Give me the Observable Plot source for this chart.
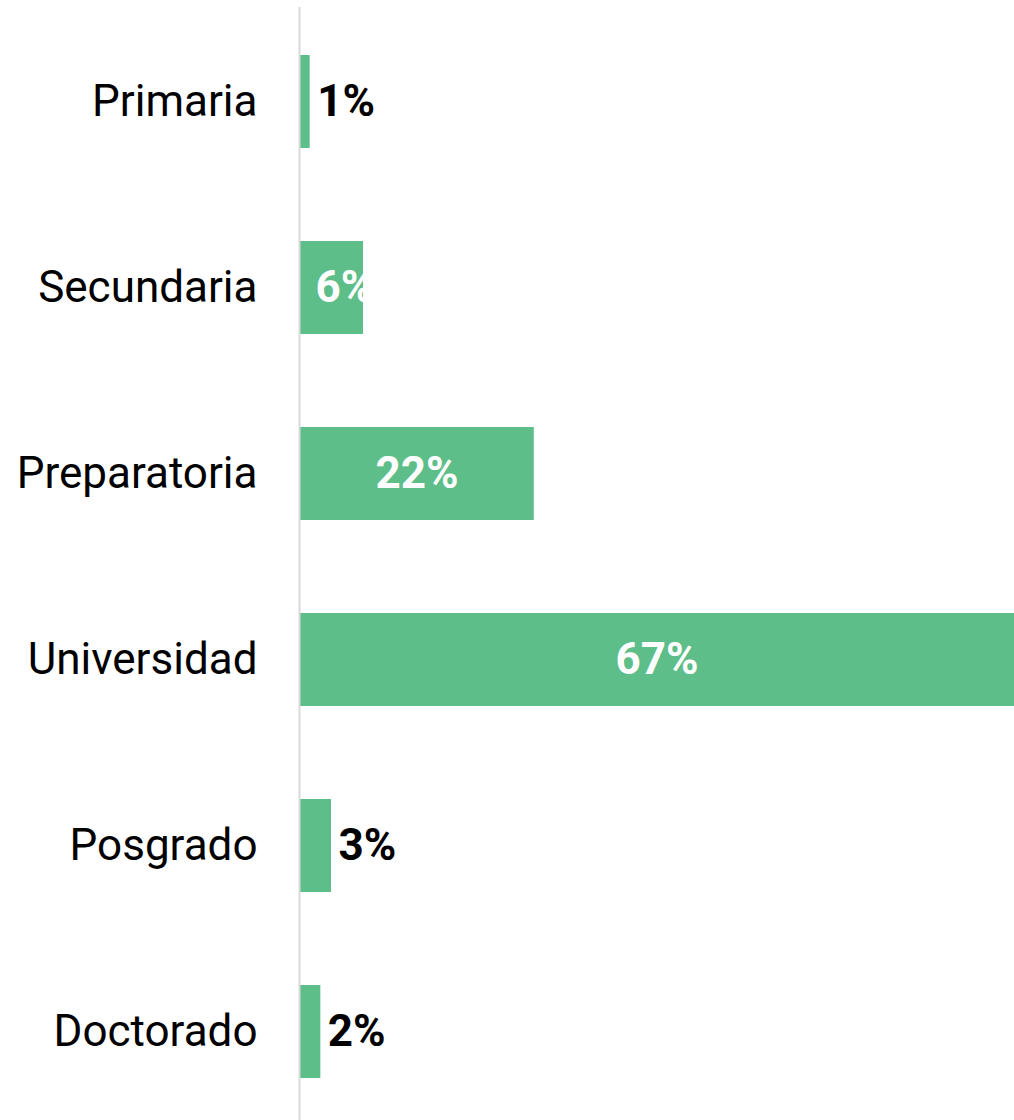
<!DOCTYPE html>
<html>
<head>
<meta charset="utf-8">
<script src="https://cdn.jsdelivr.net/npm/d3@7"></script>
<script src="https://cdn.jsdelivr.net/npm/@observablehq/plot@0.6"></script>
<style>
  html, body { margin: 0; padding: 0; background: #ffffff; }
  svg { display: block; }
</style>
</head>
<body>
<div id="chart"></div>
<script>
const categories = ["Primaria", "Secundaria", "Preparatoria", "Universidad", "Posgrado", "Doctorado"];
const values = [1, 6, 22, 67, 3, 2];
const labels = ["1%", "6%", "22%", "67%", "3%", "2%"];
const labelStyle = ["outside", "insideStart", "inside", "inside", "outside", "outside"];

const data = categories.map((c, i) => ({category: c, value: values[i], label: labels[i], style: labelStyle[i]}));

const font = "Roboto, 'DejaVu Sans', sans-serif";

const chart = Plot.plot({
  width: 1014,
  height: 1120,
  marginLeft: 299,
  marginRight: 0,
  marginTop: 7,
  marginBottom: 0,
  style: {fontFamily: font, background: "#ffffff"},
  x: {domain: [0, 67], axis: null},
  y: {domain: categories, range: [7, 1125], paddingInner: 0.5, paddingOuter: 0.25, label: null, axis: null},
  marks: [
    Plot.barX(data, {y: "category", x: "value", fill: "#5dbe89"}),
    Plot.ruleX([0], {stroke: "#d9d9d9", strokeWidth: 2}),
    Plot.axisY({tickSize: 0, tickPadding: 42, fontSize: 44, fill: "#000000", label: null, fontFamily: font}),
    Plot.text(data.filter(d => d.style === "inside"), {y: "category", x: d => d.value / 2, text: "label", fill: "#ffffff", fontSize: 44, fontWeight: "bold", textAnchor: "middle"}),
    Plot.text(data.filter(d => d.style === "insideStart"), {y: "category", x: 0, text: "label", fill: "#ffffff", fontSize: 44, fontWeight: "bold", textAnchor: "start", dx: 16}),
    Plot.text(data.filter(d => d.style === "outside"), {y: "category", x: "value", text: "label", fill: "#000000", fontSize: 44, fontWeight: "bold", textAnchor: "start", dx: 7})
  ]
});
document.getElementById("chart").appendChild(chart);
</script>
</body>
</html>
